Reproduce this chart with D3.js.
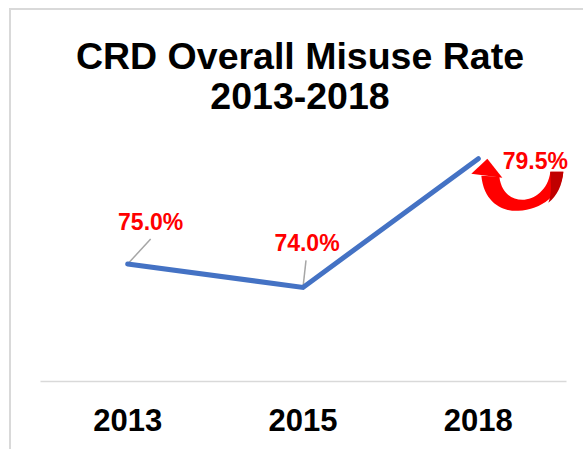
<!DOCTYPE html>
<html>
<head>
<meta charset="utf-8">
<script src="https://cdn.jsdelivr.net/npm/d3@7"></script>
<style>
  html, body { margin: 0; padding: 0; background: #fff; }
  svg { display: block; font-family: "Liberation Sans", Arial, sans-serif; }
</style>
</head>
<body>
<svg id="chart" width="583" height="449"></svg>
<script>
// chart data
const years = ['2013', '2015', '2018'];
const rates = [75.0, 74.0, 79.5];
const titleLines = ['CRD Overall Misuse Rate', '2013-2018'];

// label offsets from each point (dx, baseline dy, leader end)
const labelOffsets = [
  { dx: 23, dy: -34, lx: 23, ly: -25 },
  { dx: 4, dy: -36, lx: 3, ly: -27 },
  { dx: 57, dy: 10, lx: 0, ly: 0 }
];

const width = 583;
const height = 449;
const margin = { top: 147, right: 17, bottom: 68, left: 40 };

const svg = d3.select('#chart');

// outer frame of the chart area
svg.append('rect')
  .attr('x', 10)
  .attr('y', 9)
  .attr('width', width + 10)
  .attr('height', height + 10)
  .attr('fill', 'none')
  .attr('stroke', '#d9d9d9')
  .attr('stroke-width', 2);

const x = d3.scaleBand()
  .domain(years)
  .range([margin.left, width - margin.right]);

const y = d3.scaleLinear()
  .domain([70, 80])
  .range([height - margin.bottom, margin.top]);

// title
svg.append('g')
  .selectAll('text')
  .data(titleLines)
  .enter()
  .append('text')
  .attr('x', 300)
  .attr('y', (d, i) => 69 + i * 40)
  .attr('text-anchor', 'middle')
  .style('font-size', '37.5px')
  .style('font-weight', 'bold')
  .attr('fill', '#000')
  .text(d => d);

// x axis
const xAxis = svg.append('g')
  .attr('transform', `translate(0,${y(70)})`)
  .call(d3.axisBottom(x).tickSize(0).tickPadding(28));

xAxis.select('.domain')
  .attr('stroke', '#d9d9d9')
  .attr('stroke-width', 1.5);

xAxis.selectAll('text')
  .style('font-size', '31px')
  .style('font-weight', 'bold')
  .style('font-family', '"Liberation Sans", Arial, sans-serif')
  .attr('fill', '#000');

const points = years.map((yr, i) => ({
  year: yr,
  value: rates[i],
  px: x(yr) + x.bandwidth() / 2,
  py: y(rates[i]),
  off: labelOffsets[i]
}));

// leader lines
svg.append('g')
  .selectAll('line')
  .data(points.filter(p => p.off.lx !== 0 || p.off.ly !== 0))
  .enter()
  .append('line')
  .attr('x1', d => d.px)
  .attr('y1', d => d.py)
  .attr('x2', d => d.px + d.off.lx)
  .attr('y2', d => d.py + d.off.ly)
  .attr('stroke', '#a6a6a6')
  .attr('stroke-width', 1.5);

// the line
const line = d3.line()
  .x(d => d.px)
  .y(d => d.py);

svg.append('path')
  .datum(points)
  .attr('d', line)
  .attr('fill', 'none')
  .attr('stroke', '#4472c4')
  .attr('stroke-width', 5)
  .attr('stroke-linecap', 'round')
  .attr('stroke-linejoin', 'miter');

// curved red arrow next to the last point
const last = points[points.length - 1];
const ax = last.px;
const ay = last.py;
const arrow = svg.append('g')
  .attr('transform', `translate(${ax},${ay})`);

const arc = d3.path();
arc.moveTo(3, 17);
arc.bezierCurveTo(6, 47, 28, 53, 40, 52);
arc.bezierCurveTo(63, 51, 83, 36, 85, 13);
arc.lineTo(72, 13);
arc.bezierCurveTo(70, 31, 56, 41, 44, 41);
arc.bezierCurveTo(33, 41, 23, 34, 21, 18);
arc.closePath();

arrow.append('path')
  .attr('d', arc.toString())
  .attr('fill', '#ff0000');

// darker back face of the tail
arrow.append('path')
  .attr('d', 'M72,13 L85,13 C84,26 79,37 70,44 C74,34 72,24 72,13 Z')
  .attr('fill', '#c00000');

// arrow head
arrow.append('path')
  .attr('d', 'M-7,15 L9,0 L24,19 Z')
  .attr('fill', '#ff0000');

// value labels
svg.append('g')
  .selectAll('text')
  .data(points)
  .enter()
  .append('text')
  .attr('x', d => d.px + d.off.dx)
  .attr('y', d => d.py + d.off.dy)
  .attr('text-anchor', 'middle')
  .style('font-size', '23px')
  .style('font-weight', 'bold')
  .attr('fill', '#ff0000')
  .text(d => d.value.toFixed(1) + '%');
</script>
</body>
</html>
